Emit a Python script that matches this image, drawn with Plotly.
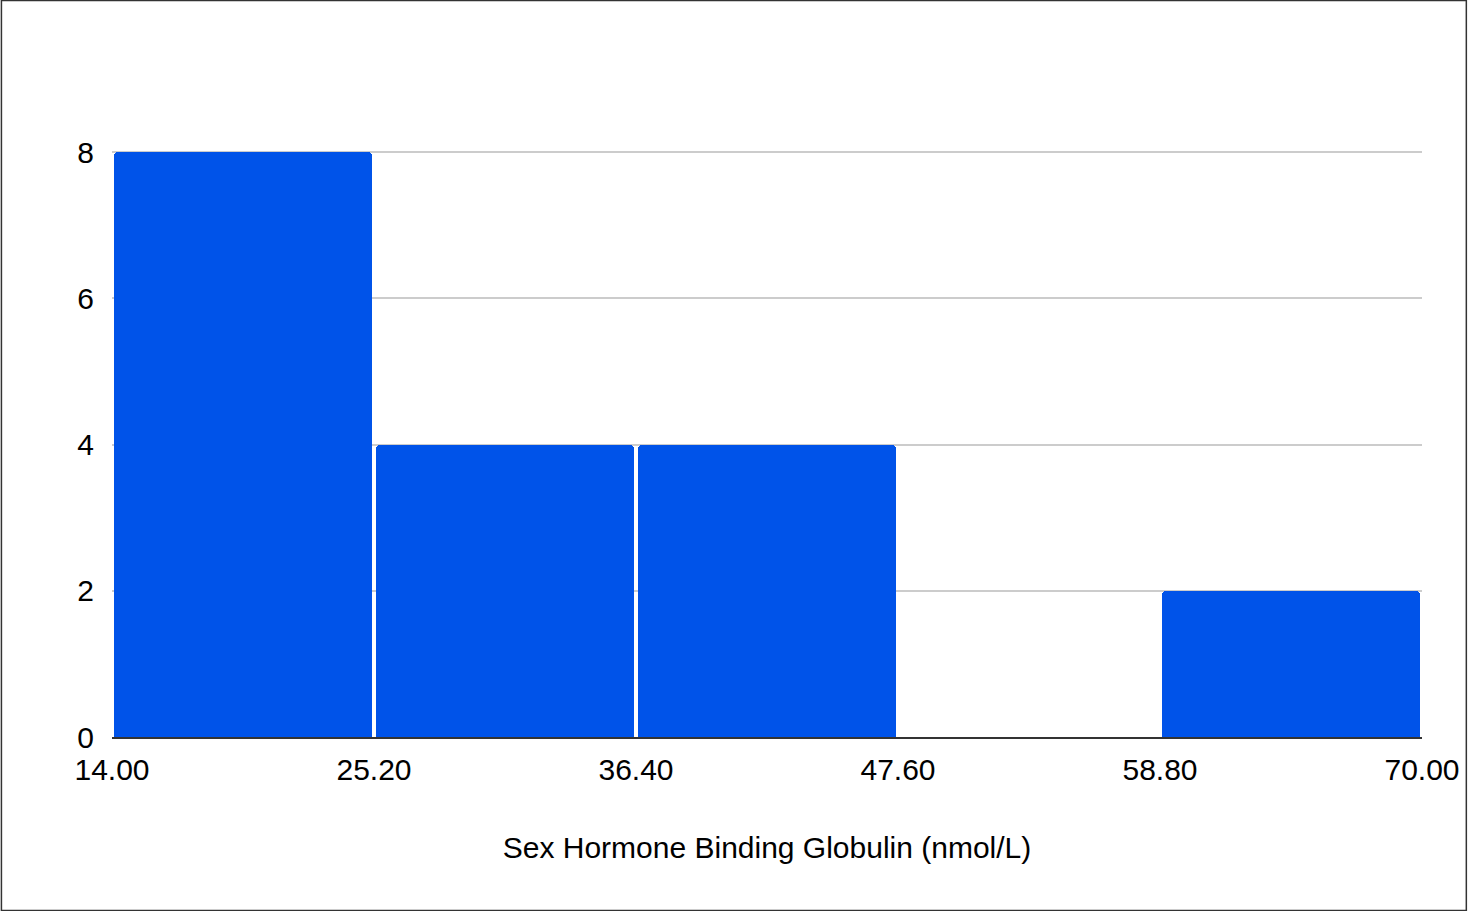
import plotly.graph_objects as go

# Data
bin_edges = [14.0, 25.2, 36.4, 47.6, 58.8, 70.0]
counts = [8, 4, 4, 0, 2]
x_tick_labels = ["14.00", "25.20", "36.40", "47.60", "58.80", "70.00"]
y_ticks = [0, 2, 4, 6, 8]
x_title = "Sex Hormone Binding Globulin (nmol/L)"

centers = [(a + b) / 2 for a, b in zip(bin_edges[:-1], bin_edges[1:])]
bin_w = bin_edges[1] - bin_edges[0]

W, H = 1472, 911
L, R, T, B = 112, 45, 150, 174
PW, PH = W - L - R, H - T - B
Y_TOP = 8 + 8 * 2 / (H - 152 - B)  # a little headroom so the top gridline shows

FONT = "Liberation Sans, Arial, sans-serif"
FS = 30

fig = go.Figure(
    go.Bar(
        x=centers,
        y=counts,
        width=bin_w * 0.982,
        marker=dict(color="#0053E9", line=dict(width=0), cornerradius=4),
        hoverinfo="x+y",
    )
)

def px_x(p):
    return (p - L) / PW

def px_y(p):
    return (H - p - B) / PH

fig.add_shape(
    type="rect", xref="paper", yref="paper",
    x0=px_x(1), x1=px_x(W - 0.5), y0=px_y(H - 0.5), y1=px_y(0.5),
    line=dict(color="#333333", width=1.5), fillcolor="rgba(0,0,0,0)", layer="above",
)

fig.update_layout(
    width=W, height=H,
    margin=dict(l=L, r=R, t=T, b=B, pad=0),
    paper_bgcolor="white", plot_bgcolor="white",
    font=dict(family=FONT, size=FS, color="#000000"),
    showlegend=False,
    bargap=0,
)
fig.update_xaxes(
    range=[bin_edges[0], bin_edges[-1]],
    tickvals=bin_edges, ticktext=x_tick_labels,
    showgrid=False, zeroline=False,
    showline=True, linecolor="#333333", linewidth=2,
    ticks="outside", ticklen=5, tickcolor="rgba(0,0,0,0)",
    tickfont=dict(size=FS, family=FONT, color="#000000"),
    title=dict(text=x_title, font=dict(size=FS, family=FONT, color="#000000"), standoff=52),
)
fig.update_yaxes(
    range=[0, Y_TOP], tickvals=y_ticks,
    showgrid=True, gridcolor="#cccccc", gridwidth=2,
    zeroline=False, showline=False,
    ticks="outside", ticklen=11, tickcolor="rgba(0,0,0,0)",
    tickfont=dict(size=FS, family=FONT, color="#000000"),
)

fig.write_html(
    "out.html",
    config={"displayModeBar": False},
    post_script=(
        "document.body.style.margin='0';"
        "document.body.style.overflow='hidden';"
        "document.documentElement.style.overflow='hidden';"
    ),
)
